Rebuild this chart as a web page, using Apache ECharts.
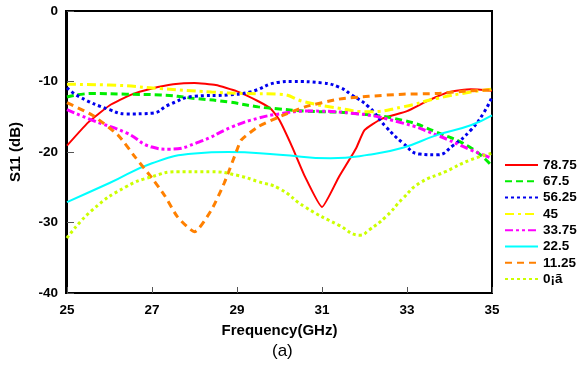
<!DOCTYPE html>
<html>
<head>
<meta charset="utf-8">
<script src="https://cdn.jsdelivr.net/npm/echarts@6/dist/echarts.min.js"></script>
<style>
  html, body { margin: 0; padding: 0; background: #fff; }
  #chart { width: 587px; height: 374px; }
</style>
</head>
<body>
<div id="chart"></div>
<script>
const seriesNames = ['78.75', '67.5', '56.25', '45', '33.75', '22.5', '11.25', '0¡ã']
const xTicks = [25, 27, 29, 31, 33, 35]
const yTicks = [0, -10, -20, -30, -40]

// [frequency GHz, S11 dB]
const s78 = [[25, -19.1], [25.5, -15.8], [26, -13.4], [26.5, -11.9], [27, -11.0], [27.5, -10.4], [28, -10.2], [28.5, -10.5], [29, -11.4], [29.5, -12.8], [29.8, -13.9], [30, -15.5], [30.3, -19.3], [30.6, -23.5], [31, -27.8], [31.4, -23.5], [31.8, -19.5], [32, -16.9], [32.4, -15.3], [33, -14.2], [33.5, -12.7], [34, -11.5], [34.5, -11.1], [35, -11.3]]
const s67 = [[25, -12.2], [25.6, -11.7], [26.4, -11.8], [27.2, -11.9], [28, -12.4], [28.8, -12.9], [29.5, -13.6], [30, -13.9], [30.6, -14.2], [31.7, -14.5], [32.9, -15.5], [33.7, -17.2], [34.5, -19.4], [35, -22.0]]
const s56 = [[25, -10.9], [25.3, -12.2], [26, -14.0], [26.4, -14.6], [27, -14.5], [27.4, -13.3], [28, -12.1], [28.8, -11.9], [29.3, -11.5], [30, -10.1], [30.3, -10.0], [31, -10.2], [31.4, -10.8], [31.7, -11.9], [32.1, -13.6], [32.5, -16.4], [32.9, -18.7], [33.3, -20.3], [33.7, -20.4], [34.1, -19.0], [34.5, -16.9], [34.8, -14.5], [35, -12.2]]
const s45 = [[25, -10.4], [26, -10.5], [27.2, -11.0], [28.4, -11.5], [29.2, -11.7], [30, -11.8], [30.6, -12.9], [31.4, -13.8], [32.1, -14.3], [32.9, -13.6], [33.7, -12.4], [34.5, -11.5], [35, -11.1]]
const s33 = [[25, -14.0], [25.6, -15.5], [26.4, -17.3], [27, -19.3], [27.4, -19.6], [28.1, -18.6], [28.9, -16.4], [29.5, -15.2], [30, -14.6], [30.6, -14.2], [31.7, -14.5], [32.9, -15.9], [33.7, -17.6], [34.5, -19.7], [35, -20.9]]
const s22 = [[25, -27.1], [26, -24.4], [27, -21.6], [28, -20.2], [28.8, -20.0], [30, -20.4], [31.2, -20.9], [32.1, -20.4], [32.9, -19.4], [33.7, -17.6], [34.5, -16.2], [35, -14.8]]
const s11 = [[25, -13.0], [25.6, -14.8], [26.2, -17.6], [26.6, -20.7], [27, -23.7], [27.3, -26.2], [27.6, -29.2], [28, -31.3], [28.4, -28.2], [28.7, -24.4], [29, -19.7], [29.1, -18.3], [29.5, -16.4], [30, -15.0], [30.6, -13.6], [31.4, -12.5], [32.1, -12.1], [32.9, -11.8], [33.7, -11.7], [34.5, -11.3], [35, -11.2]]
const s0 = [[25, -32.2], [25.6, -28.2], [26.4, -24.9], [27, -23.5], [27.6, -22.8], [28.4, -22.8], [29, -23.3], [29.5, -24.2], [30, -25.2], [30.6, -27.8], [31.4, -30.4], [31.9, -31.8], [32.1, -31.1], [32.5, -29.2], [32.9, -26.6], [33.3, -24.4], [33.9, -22.8], [34.5, -21.1], [35, -20.2]]

const seriesData = [s78, s67, s56, s45, s33, s22, s11, s0]
const colors = ['#ff0000', '#00ee00', '#0000ee', '#ffff00', '#ff00ff', '#00ffff', '#ff8000', '#ccff00']
const widths = [2, 3, 3, 3, 3, 2, 3, 3]
const dashes = ['solid', [7, 4], [3, 3], [9, 4, 3, 4], [8, 3, 3, 3, 3, 3], 'solid', [7, 5], [3, 3]]
const smooths = [0.15, true, true, true, true, true, 0.2, true]

const chart = echarts.init(document.getElementById('chart'))
const font = 'Liberation Sans, Arial, sans-serif'

chart.setOption({
  backgroundColor: '#fff',
  animation: false,
  grid: { left: 66, right: 95, top: 11, bottom: 81 },
  legend: {
    orient: 'vertical',
    left: 504,
    top: 158,
    padding: 0,
    itemWidth: 33,
    itemHeight: 14,
    itemGap: 2.3,
    itemStyle: { opacity: 0 },
    data: seriesNames,
    textStyle: { fontFamily: font, fontWeight: 'bold', fontSize: 13.5, color: '#000' }
  },
  xAxis: {
    type: 'value',
    min: 25,
    max: 35,
    interval: 2,
    name: 'Frequency(GHz)',
    nameLocation: 'middle',
    nameGap: 30,
    nameTextStyle: { fontFamily: font, fontWeight: 'bold', fontSize: 15, color: '#000' },
    axisLine: { onZero: false, lineStyle: { color: '#000', width: 2 } },
    axisTick: { inside: true, length: 6, lineStyle: { color: '#555' } },
    axisLabel: {
      fontFamily: font, fontWeight: 'bold', fontSize: 13.5, color: '#000', margin: 10,
      customValues: xTicks
    },
    splitLine: { show: false }
  },
  yAxis: {
    type: 'value',
    min: -40,
    max: 0,
    interval: 10,
    name: 'S11 (dB)',
    nameLocation: 'middle',
    nameGap: 44,
    nameTextStyle: { fontFamily: font, fontWeight: 'bold', fontSize: 15, color: '#000' },
    axisLine: { onZero: false, lineStyle: { color: '#000', width: 2 } },
    axisTick: { inside: true, length: 7, lineStyle: { color: '#555' } },
    axisLabel: {
      fontFamily: font, fontWeight: 'bold', fontSize: 13.5, color: '#000', margin: 9,
      customValues: yTicks
    },
    splitLine: { show: false }
  },
  graphic: [
    { type: 'rect', shape: { x: 66, y: 11, width: 426, height: 282 }, style: { fill: 'none', stroke: '#000', lineWidth: 2 }, silent: true },
    { type: 'text', left: 272, top: 343, style: { text: '(a)', font: '17px Liberation Sans, Arial, sans-serif', fill: '#000' } }
  ],
  series: seriesNames.map((name, i) => ({
    name,
    type: 'line',
    data: seriesData[i],
    symbol: 'none',
    smooth: smooths[i],
    lineStyle: { color: colors[i], width: widths[i], type: dashes[i], cap: 'butt' },
    itemStyle: { color: colors[i] }
  }))
})
</script>
</body>
</html>
